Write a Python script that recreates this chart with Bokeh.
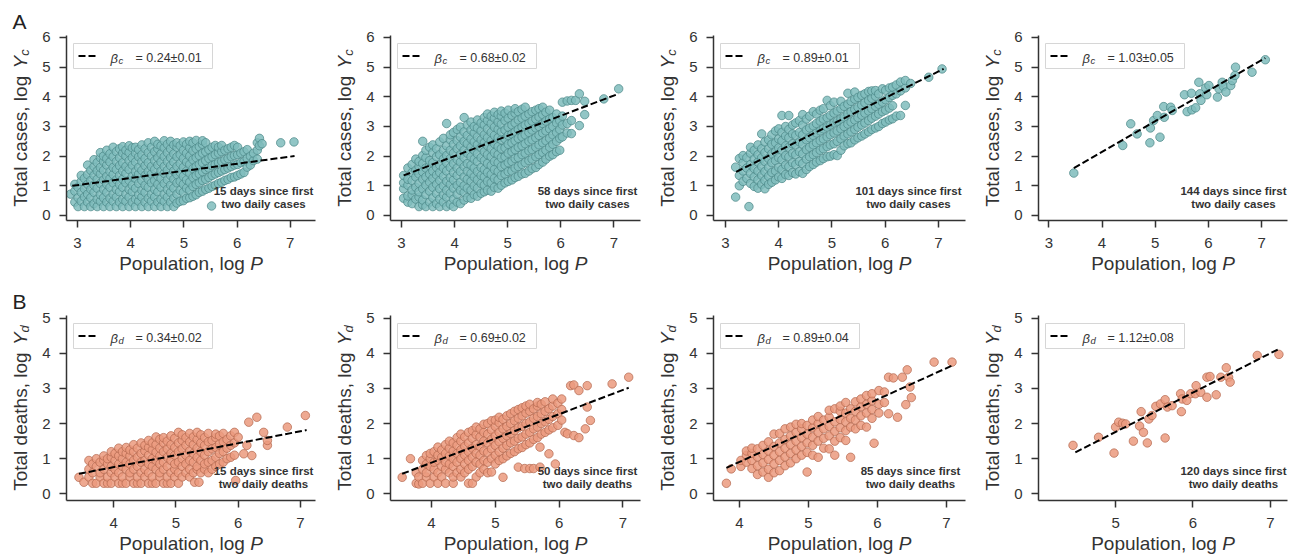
from bokeh.plotting import figure
from bokeh.layouts import gridplot
from bokeh.models import Label, Range1d, FixedTicker
from bokeh.embed import file_html
from bokeh.resources import INLINE

# ---------------- data ----------------
# each entry: (log population, [log totals observed at that population])
a1_cols = [
    (2.87, [0.72]), (2.95, [0.45, 0.82, 1.05]), (3.01, [0.3, 0.6, 0.95]),
    (3.07, [0.48, 0.78, 1.15, 1.35]), (3.13, [0.3, 0.62, 0.9, 1.25]),
    (3.19, [0.45, 0.72, 1.05, 1.38, 1.7]), (3.25, [0.3, 0.6, 0.88, 1.18, 1.52]),
    (3.31, [0.4, 0.78, 1.02, 1.35, 1.65, 1.88]), (3.37, [0.3, 0.55, 0.92, 1.22, 1.5, 1.78]),
    (3.43, [0.48, 0.7, 1.08, 1.4, 1.62, 1.95, 2.12]), (3.49, [0.3, 0.6, 0.88, 1.2, 1.52, 1.82, 2.0]),
    (3.55, [0.45, 0.78, 1.05, 1.32, 1.7, 1.92, 2.2]), (3.61, [0.3, 0.58, 0.95, 1.25, 1.48, 1.8, 2.08]),
    (3.67, [0.48, 0.72, 1.1, 1.38, 1.62, 1.98, 2.3]), (3.73, [0.3, 0.62, 0.88, 1.2, 1.55, 1.82, 2.15]),
    (3.79, [0.45, 0.8, 1.05, 1.35, 1.68, 1.95, 2.25]), (3.85, [0.3, 0.55, 0.95, 1.22, 1.5, 1.78, 2.1, 2.32]),
    (3.91, [0.48, 0.72, 1.1, 1.42, 1.65, 2.0, 2.2]), (3.97, [0.3, 0.62, 0.88, 1.18, 1.55, 1.85, 2.12, 2.35]),
    (4.03, [0.45, 0.8, 1.02, 1.32, 1.7, 1.95, 2.28]), (4.09, [0.3, 0.55, 0.92, 1.25, 1.48, 1.8, 2.1, 2.3]),
    (4.15, [0.48, 0.7, 1.08, 1.4, 1.62, 1.98, 2.22]), (4.21, [0.3, 0.62, 0.85, 1.18, 1.52, 1.82, 2.05, 2.38]),
    (4.27, [0.45, 0.78, 1.02, 1.35, 1.68, 1.92, 2.25]), (4.33, [0.3, 0.58, 0.95, 1.22, 1.48, 1.78, 2.12, 2.45]),
    (4.39, [0.48, 0.72, 1.1, 1.4, 1.65, 2.0, 2.3]), (4.45, [0.3, 0.62, 0.88, 1.18, 1.55, 1.85, 2.15, 2.5]),
    (4.51, [0.45, 0.8, 1.05, 1.32, 1.7, 1.95, 2.25, 2.4]), (4.57, [0.3, 0.55, 0.95, 1.25, 1.5, 1.8, 2.08, 2.35]),
    (4.63, [0.48, 0.72, 1.08, 1.42, 1.65, 1.98, 2.28, 2.52]), (4.69, [0.3, 0.62, 0.88, 1.2, 1.52, 1.82, 2.12, 2.4]),
    (4.75, [0.45, 0.78, 1.02, 1.35, 1.68, 1.95, 2.25, 2.5]), (4.81, [0.3, 0.58, 0.92, 1.22, 1.5, 1.8, 2.08, 2.38]),
    (4.87, [0.42, 0.72, 1.1, 1.38, 1.65, 1.98, 2.3, 2.45]), (4.93, [0.48, 0.85, 1.15, 1.45, 1.75, 2.05, 2.35]),
    (4.99, [0.5, 0.78, 1.05, 1.32, 1.62, 1.92, 2.2, 2.48]), (5.05, [0.58, 0.92, 1.2, 1.5, 1.8, 2.1, 2.4]),
    (5.11, [0.6, 0.85, 1.12, 1.42, 1.72, 2.0, 2.28, 2.5]), (5.17, [0.65, 0.98, 1.28, 1.58, 1.88, 2.18, 2.45]),
    (5.23, [0.7, 1.05, 1.35, 1.65, 1.95, 2.25, 2.53]), (5.29, [0.78, 1.1, 1.4, 1.72, 2.02, 2.32]),
    (5.35, [0.82, 1.18, 1.48, 1.78, 2.1, 2.4, 2.52]), (5.41, [0.88, 1.22, 1.55, 1.85, 2.15, 2.45]),
    (5.47, [0.92, 1.28, 1.6, 1.92, 2.22]), (5.52, [0.32]), (5.53, [0.98, 1.35, 1.68, 1.98, 2.3]),
    (5.59, [1.02, 1.4, 1.72, 2.05, 2.36]), (5.65, [1.08, 1.45, 1.78, 2.1, 2.3]),
    (5.71, [1.12, 1.5, 1.82, 2.15, 2.36]), (5.77, [1.18, 1.55, 1.88, 2.2]),
    (5.83, [1.22, 1.6, 1.92, 2.25]), (5.89, [1.28, 1.65, 1.98, 2.3]),
    (5.95, [1.3, 1.7, 2.02, 2.36]), (6.01, [1.35, 1.72, 2.05, 2.3]),
    (6.07, [1.4, 1.78, 2.1]), (6.13, [1.45, 1.82, 2.15]), (6.19, [1.63, 1.92, 2.22]),
    (6.25, [1.7, 2.0]), (6.31, [1.85, 2.1]), (6.38, [1.9, 2.2, 2.45]),
    (6.42, [2.6, 2.35]), (6.47, [2.42]), (6.82, [2.45]), (7.07, [2.48]),
]

a2_cols = [
    (3.04, [0.58, 0.9, 1.1, 1.35]), (3.12, [0.45, 0.66, 1.02, 1.22, 1.6]),
    (3.2, [0.4, 0.7, 0.86, 1.18, 1.45, 1.72]), (3.27, [0.55, 0.95, 1.3, 1.52, 1.9]),
    (3.33, [0.3, 0.62, 0.8, 1.08, 1.4, 1.65, 1.82]), (3.4, [0.36, 0.52, 0.9, 1.22, 1.47, 1.75, 2.02, 2.5]),
    (3.46, [0.3, 0.7, 1.02, 1.3, 1.6, 1.95, 2.2]), (3.53, [0.45, 0.82, 1.12, 1.4, 1.68, 1.85, 2.3]),
    (3.59, [0.3, 0.6, 0.95, 1.25, 1.5, 1.78, 2.12, 2.38]), (3.66, [0.4, 0.74, 1.05, 1.36, 1.62, 1.98, 2.25]),
    (3.72, [0.3, 0.55, 0.9, 1.18, 1.45, 1.7, 2.05, 2.48]), (3.79, [0.45, 0.7, 1.0, 1.32, 1.6, 1.9, 2.2, 2.6]),
    (3.85, [0.3, 0.62, 0.85, 1.15, 1.5, 1.78, 2.02, 2.35, 3.1]),
    (3.92, [0.38, 0.75, 1.05, 1.28, 1.62, 1.92, 2.2, 2.55, 2.72]),
    (3.98, [0.3, 0.55, 0.92, 1.2, 1.45, 1.75, 2.1, 2.4, 2.8]),
    (4.05, [0.45, 0.72, 1.02, 1.35, 1.6, 1.88, 2.25, 2.52, 2.9]),
    (4.11, [0.4, 0.85, 1.12, 1.48, 1.8, 2.05, 2.35, 2.65, 2.98]),
    (4.18, [0.52, 0.78, 1.0, 1.3, 1.65, 1.95, 2.2, 2.5, 2.82, 3.3]),
    (4.24, [0.6, 0.92, 1.22, 1.5, 1.75, 2.1, 2.42, 2.7, 3.05]),
    (4.31, [0.58, 0.85, 1.15, 1.42, 1.7, 1.98, 2.3, 2.58, 2.88, 3.15]),
    (4.37, [0.7, 1.0, 1.3, 1.6, 1.9, 2.2, 2.48, 2.78, 3.0]),
    (4.43, [0.65, 0.92, 1.2, 1.48, 1.82, 2.08, 2.38, 2.65, 2.95, 3.22]),
    (4.5, [0.75, 1.08, 1.35, 1.62, 1.95, 2.28, 2.55, 2.85, 3.12]),
    (4.56, [0.8, 1.02, 1.3, 1.55, 1.85, 2.15, 2.45, 2.72, 3.05, 3.3]),
    (4.62, [0.85, 1.15, 1.45, 1.75, 2.05, 2.35, 2.62, 2.92, 3.2, 3.42]),
    (4.69, [0.82, 1.1, 1.38, 1.68, 1.98, 2.25, 2.52, 2.8, 3.1, 3.35]),
    (4.75, [0.95, 1.25, 1.55, 1.82, 2.12, 2.42, 2.7, 2.98, 3.28, 3.48]),
    (4.82, [0.92, 1.2, 1.48, 1.78, 2.05, 2.32, 2.62, 2.9, 3.15, 3.4]),
    (4.88, [1.02, 1.35, 1.65, 1.95, 2.25, 2.55, 2.82, 3.08, 3.35, 3.52]),
    (4.95, [1.1, 1.4, 1.7, 1.98, 2.28, 2.58, 2.88, 3.2, 3.45]),
    (5.01, [1.15, 1.48, 1.78, 2.1, 2.4, 2.7, 2.98, 3.28, 3.55]),
    (5.08, [1.2, 1.5, 1.82, 2.15, 2.45, 2.75, 3.05, 3.38]),
    (5.14, [1.28, 1.6, 1.92, 2.22, 2.52, 2.82, 3.12, 3.45, 3.6]),
    (5.2, [1.32, 1.65, 1.95, 2.3, 2.6, 2.9, 3.22, 3.5]),
    (5.27, [1.4, 1.72, 2.05, 2.35, 2.65, 2.98, 3.28, 3.58]),
    (5.33, [1.42, 1.78, 2.1, 2.42, 2.72, 3.05, 3.35, 3.65]),
    (5.4, [1.5, 1.85, 2.18, 2.5, 2.8, 3.1, 3.42]),
    (5.46, [1.58, 1.9, 2.22, 2.55, 2.88, 3.18, 3.5]),
    (5.53, [1.62, 1.98, 2.3, 2.62, 2.95, 3.25, 3.55]),
    (5.59, [1.72, 2.05, 2.38, 2.7, 3.0, 3.32, 3.6]),
    (5.66, [1.8, 2.12, 2.45, 2.78, 3.1, 3.4, 3.65]),
    (5.72, [1.9, 2.2, 2.52, 2.85, 3.18, 3.48]),
    (5.79, [2.0, 2.3, 2.6, 2.92, 3.25, 3.55]),
    (5.85, [2.05, 2.4, 2.72, 3.0, 3.3]), (5.92, [2.15, 2.5, 2.8, 3.12, 3.42]),
    (5.98, [2.2, 2.6, 2.9, 3.2]), (6.03, [2.65, 3.05, 3.35, 3.82]),
    (6.12, [2.78, 3.1, 3.86]), (6.2, [2.76, 3.2, 3.88]), (6.28, [3.88]),
    (6.35, [3.03, 4.1]), (6.45, [3.4, 3.85]), (6.81, [3.93]), (7.09, [4.27]),
]

a3_cols = [
    (3.19, [0.62, 1.63]), (3.26, [1.0, 1.35, 1.92]), (3.33, [1.15, 1.5, 1.78, 2.02]),
    (3.4, [1.25, 1.6, 1.95]), (3.44, [0.3]), (3.47, [1.08, 1.42, 1.72, 2.1, 2.3]),
    (3.54, [0.98, 1.3, 1.58, 1.9, 2.2]), (3.61, [0.92, 1.2, 1.5, 1.8, 2.05, 2.38]),
    (3.68, [1.05, 1.35, 1.65, 1.95, 2.25, 2.75]), (3.74, [0.9, 1.18, 1.48, 1.82, 2.12, 2.48]),
    (3.81, [1.05, 1.32, 1.62, 1.92, 2.25, 2.55]), (3.87, [1.12, 1.45, 1.78, 2.08, 2.4, 2.72]),
    (3.94, [1.2, 1.5, 1.85, 2.15, 2.45, 2.85]), (4.0, [1.3, 1.62, 1.95, 2.28, 2.58, 2.92]),
    (4.06, [1.25, 1.55, 1.88, 2.2, 2.52, 2.8, 3.37]), (4.13, [1.38, 1.7, 2.02, 2.35, 2.68, 3.0]),
    (4.19, [1.35, 1.65, 1.98, 2.3, 2.62, 2.9, 3.37]), (4.26, [1.45, 1.78, 2.1, 2.42, 2.75, 3.05]),
    (4.32, [1.4, 1.72, 2.05, 2.38, 2.7, 3.12]), (4.39, [1.48, 1.82, 2.15, 2.48, 2.8, 3.2]),
    (4.45, [1.42, 1.75, 2.08, 2.4, 2.72, 3.05, 3.4]), (4.52, [1.55, 1.9, 2.22, 2.55, 2.88, 3.25]),
    (4.58, [1.65, 1.98, 2.3, 2.62, 2.95, 3.35]), (4.65, [1.72, 2.05, 2.38, 2.7, 3.02, 3.5]),
    (4.71, [1.8, 2.12, 2.45, 2.78, 3.1, 3.42]), (4.78, [1.85, 2.2, 2.52, 2.85, 3.18, 3.55]),
    (4.84, [1.92, 2.25, 2.58, 2.92, 3.25, 3.6]), (4.91, [1.98, 2.32, 2.65, 2.98, 3.3, 3.88]),
    (4.97, [2.0, 2.38, 2.72, 3.05, 3.38, 3.7]), (5.04, [2.05, 2.42, 2.78, 3.12, 3.45, 3.82]),
    (5.1, [2.02, 2.5, 2.85, 3.18, 3.52]), (5.17, [2.2, 2.58, 2.92, 3.25, 3.6, 3.85]),
    (5.23, [2.35, 2.68, 3.0, 3.32, 3.68]), (5.3, [2.42, 2.75, 3.08, 3.42, 3.75, 4.12]),
    (5.36, [2.45, 2.82, 3.15, 3.5, 3.85]), (5.43, [2.55, 2.9, 3.22, 3.58, 3.92, 4.16]),
    (5.49, [2.62, 2.98, 3.3, 3.65, 3.98]), (5.56, [2.68, 3.05, 3.38, 3.72, 4.05]),
    (5.62, [2.75, 3.12, 3.45, 3.8, 4.1]), (5.69, [2.82, 3.2, 3.52, 3.88, 4.18]),
    (5.75, [2.9, 3.28, 3.6, 3.95, 4.2]), (5.82, [2.95, 3.35, 3.68, 4.02, 4.21]),
    (5.88, [3.0, 3.42, 3.75, 4.1]), (5.95, [3.1, 3.5, 3.82, 4.27]),
    (6.01, [3.15, 3.55, 3.9, 4.22]), (6.08, [3.22, 3.62, 3.98, 4.3]),
    (6.14, [3.26, 3.7, 4.05, 4.33]), (6.21, [3.35, 4.1, 4.4]), (6.29, [3.37, 4.2, 4.5]),
    (6.38, [3.71, 4.3, 4.55]), (6.48, [4.45]), (6.82, [4.66]), (7.07, [4.94]),
]

a4_x = [3.47, 4.39, 4.54, 4.66, 4.9, 4.91, 4.97, 5.04, 5.09, 5.16, 5.17, 5.29,
        5.32, 5.55, 5.6, 5.68, 5.69, 5.76, 5.82, 5.84, 5.86, 5.95, 5.97, 6.01,
        6.17, 6.2, 6.26, 6.28, 6.33, 6.42, 6.45, 6.5, 6.51, 6.82, 7.07]
a4_y = [1.43, 2.36, 3.09, 2.75, 2.45, 2.95, 3.2, 3.37, 2.64, 3.67, 3.31, 3.65,
        3.54, 4.07, 3.5, 4.12, 3.56, 3.63, 4.49, 4.1, 3.88, 4.3, 4.07, 4.38,
        3.99, 4.27, 4.49, 4.35, 4.16, 4.38, 4.55, 4.72, 5.0, 4.83, 5.25]

b1_cols = [
    (3.44, [0.47]), (3.52, [0.33]), (3.6, [0.48, 0.7, 0.95]), (3.66, [0.3, 0.6, 0.85]),
    (3.72, [0.3, 0.78, 1.0]), (3.78, [0.48, 0.6, 0.9]), (3.84, [0.3, 0.7, 0.95, 1.08]),
    (3.9, [0.3, 0.48, 0.85, 1.0]), (3.96, [0.3, 0.6, 0.78, 1.04, 1.2]),
    (4.02, [0.48, 0.7, 0.95, 1.15]), (4.08, [0.3, 0.6, 0.85, 1.08, 1.3]),
    (4.14, [0.3, 0.48, 0.78, 1.0, 1.2]), (4.2, [0.3, 0.7, 0.9, 1.15, 1.32]),
    (4.26, [0.48, 0.6, 0.85, 1.08, 1.25]), (4.32, [0.3, 0.7, 0.95, 1.2, 1.4]),
    (4.38, [0.3, 0.48, 0.78, 1.04, 1.3]), (4.44, [0.3, 0.6, 0.9, 1.15, 1.45]),
    (4.5, [0.48, 0.7, 0.95, 1.22, 1.38]), (4.56, [0.3, 0.6, 0.85, 1.1, 1.32, 1.52]),
    (4.62, [0.3, 0.48, 0.78, 1.0, 1.25, 1.45]), (4.68, [0.3, 0.7, 0.95, 1.18, 1.4, 1.62]),
    (4.74, [0.48, 0.6, 0.85, 1.08, 1.3, 1.55]), (4.8, [0.3, 0.7, 0.9, 1.2, 1.45, 1.6]),
    (4.86, [0.3, 0.48, 0.78, 1.04, 1.28, 1.5]), (4.92, [0.3, 0.6, 0.95, 1.15, 1.4, 1.65]),
    (4.98, [0.48, 0.7, 0.85, 1.1, 1.32, 1.58]), (5.04, [0.3, 0.6, 0.9, 1.2, 1.45, 1.75]),
    (5.1, [0.48, 0.78, 1.0, 1.28, 1.52, 1.68]), (5.16, [0.6, 0.85, 1.1, 1.38, 1.6]),
    (5.22, [0.48, 0.7, 0.95, 1.22, 1.48, 1.72]), (5.28, [0.6, 0.9, 1.15, 1.4, 1.62]),
    (5.3, [0.33]), (5.34, [0.7, 0.78, 1.04, 1.3, 1.55, 1.75]), (5.37, [0.33]),
    (5.4, [0.6, 0.95, 1.2, 1.45, 1.68]), (5.46, [0.7, 0.85, 1.1, 1.38, 1.6]),
    (5.52, [0.6, 0.9, 1.2, 1.48, 1.72]), (5.58, [0.7, 0.95, 1.28, 1.52]),
    (5.64, [0.78, 1.04, 1.32, 1.6, 1.7]), (5.7, [0.85, 1.15, 1.42, 1.65]),
    (5.76, [0.9, 1.2, 1.48, 1.72]), (5.82, [1.0, 1.3, 1.55]), (5.88, [1.04, 1.38, 1.65]),
    (5.94, [1.1, 1.45, 1.75]), (5.96, [0.38]), (6.0, [1.61]), (6.09, [1.14]),
    (6.14, [1.38]), (6.17, [2.04]), (6.22, [1.09]), (6.3, [2.18]), (6.41, [1.75]),
    (6.47, [1.38, 1.52]), (6.79, [1.9]), (7.08, [2.23]),
]

b2_cols = [
    (3.54, [0.47]), (3.67, [1.0]), (3.76, [0.3, 0.6]), (3.8, [0.28, 0.48]),
    (3.86, [0.3, 0.7, 0.95]), (3.92, [0.48, 0.6, 0.85, 1.09]), (3.98, [0.3, 0.78, 1.0, 1.15]),
    (4.04, [0.48, 0.7, 0.9, 1.2]), (4.1, [0.3, 0.6, 0.95, 1.1, 1.33]),
    (4.16, [0.48, 0.78, 1.04, 1.25]), (4.22, [0.3, 0.7, 0.9, 1.15, 1.4]),
    (4.28, [0.6, 0.85, 1.08, 1.3, 1.5]), (4.34, [0.3, 0.48, 0.78, 1.0, 1.22, 1.45]),
    (4.4, [0.6, 0.9, 1.15, 1.38, 1.6]), (4.46, [0.48, 0.7, 1.0, 1.25, 1.5, 1.7]),
    (4.52, [0.6, 0.85, 1.1, 1.35, 1.62]), (4.58, [0.3, 0.7, 0.95, 1.2, 1.45, 1.75]),
    (4.64, [0.3, 0.78, 1.04, 1.3, 1.58, 1.8]), (4.7, [0.48, 0.9, 1.15, 1.4, 1.68, 1.9]),
    (4.76, [0.6, 0.85, 1.1, 1.35, 1.62, 1.85]), (4.82, [0.7, 0.95, 1.22, 1.5, 1.75, 1.98]),
    (4.88, [0.6, 0.9, 1.18, 1.45, 1.7, 2.0]), (4.94, [0.62, 1.0, 1.28, 1.55, 1.82, 2.08]),
    (5.0, [0.85, 1.1, 1.38, 1.65, 1.92, 2.1]), (5.06, [0.95, 1.2, 1.48, 1.75, 2.02, 2.18]),
    (5.12, [0.47, 1.0, 1.3, 1.58, 1.85, 2.12]), (5.18, [1.08, 1.38, 1.65, 1.92, 2.22]),
    (5.24, [1.15, 1.45, 1.72, 2.0, 2.28]), (5.3, [1.2, 1.5, 1.8, 2.08, 2.35]),
    (5.36, [0.76, 1.28, 1.58, 1.88, 2.15, 2.4]), (5.42, [1.32, 1.62, 1.92, 2.22, 2.45]),
    (5.46, [0.72]), (5.48, [1.4, 1.7, 2.0, 2.3, 2.5]), (5.54, [0.72, 1.45, 1.75, 2.05, 2.35, 2.55]),
    (5.6, [0.72, 1.55, 1.85, 2.15, 2.42]), (5.66, [1.6, 1.9, 2.2, 2.5, 2.6]),
    (5.7, [0.76, 1.33]), (5.72, [1.7, 2.0, 2.28, 2.55]), (5.78, [1.75, 2.05, 2.35, 2.62]),
    (5.84, [1.14, 1.82, 2.12, 2.42]), (5.9, [1.88, 2.2, 2.5, 2.7]), (5.94, [0.85]),
    (5.98, [1.95, 2.28, 2.58]), (6.04, [2.1, 2.4, 2.7]), (6.09, [1.75]), (6.13, [1.71]),
    (6.18, [3.08]), (6.23, [1.66, 3.1]), (6.31, [1.6, 2.94]), (6.41, [1.85]),
    (6.44, [2.47, 3.08]), (6.49, [2.09]), (6.83, [3.13]), (7.09, [3.32]),
]

b3_cols = [
    (3.81, [0.3]), (3.88, [0.71]), (4.02, [0.78, 0.95]), (4.1, [0.9, 1.1, 1.22]),
    (4.18, [0.72, 0.95, 1.15, 1.3]), (4.26, [0.55, 0.8, 1.05, 1.28]),
    (4.34, [0.62, 0.88, 1.12, 1.38]), (4.42, [0.47, 0.7, 0.98, 1.22, 1.48]),
    (4.5, [0.6, 0.85, 1.1, 1.35, 1.7]), (4.58, [0.66, 0.95, 1.2, 1.45, 1.72]),
    (4.66, [0.8, 1.05, 1.3, 1.55, 1.85]), (4.74, [0.88, 1.15, 1.4, 1.65, 1.9]),
    (4.82, [1.0, 1.25, 1.5, 1.75, 1.98]), (4.9, [1.1, 1.35, 1.6, 1.85, 2.0]),
    (4.98, [0.62, 1.18, 1.45, 1.7, 1.95]), (5.06, [1.1, 1.38, 1.62, 1.88, 2.1]),
    (5.14, [1.04, 1.5, 1.75, 2.0, 2.2]), (5.22, [1.3, 1.58, 1.85, 2.1]),
    (5.3, [1.28, 1.65, 1.92, 2.18, 2.38]), (5.38, [1.1, 1.5, 1.78, 2.05, 2.42]),
    (5.46, [1.6, 1.88, 2.12, 2.35, 2.5]), (5.54, [1.52, 1.8, 2.05, 2.3, 2.6]),
    (5.61, [1.04, 1.9, 2.15, 2.42]), (5.68, [1.85, 2.1, 2.35, 2.62]),
    (5.76, [1.95, 2.22, 2.48, 2.7]), (5.84, [1.9, 2.3, 2.55, 2.8]),
    (5.92, [2.15, 2.4, 2.65, 2.85]), (5.95, [1.44]), (6.02, [2.3, 2.55, 2.94]),
    (6.1, [2.6, 2.9]), (6.16, [2.28, 3.32]), (6.23, [3.3]), (6.29, [2.18]),
    (6.36, [3.32]), (6.41, [2.54]), (6.43, [3.53]), (6.47, [3.04]), (6.49, [2.74]),
    (6.82, [3.75]), (7.08, [3.75]),
]

b4_x = [4.45, 4.78, 4.98, 5.0, 5.04, 5.09, 5.13, 5.23, 5.31, 5.33, 5.36, 5.41,
        5.43, 5.47, 5.52, 5.58, 5.64, 5.64, 5.67, 5.73, 5.84, 5.85, 5.86, 5.92,
        5.97, 6.03, 6.04, 6.1, 6.18, 6.18, 6.22, 6.3, 6.36, 6.43, 6.46, 6.48,
        6.83, 7.11]
b4_y = [1.38, 1.61, 1.16, 1.9, 2.04, 2.01, 1.99, 1.5, 1.93, 2.34, 1.75, 1.45,
        2.13, 2.23, 2.49, 2.56, 1.59, 2.68, 2.47, 2.51, 2.85, 2.34, 2.7, 2.66,
        2.85, 2.85, 3.08, 2.89, 2.75, 3.32, 3.34, 2.82, 3.32, 3.59, 3.32, 3.18,
        3.94, 3.97]

betas = [0.24, 0.68, 0.89, 1.03, 0.34, 0.69, 0.89, 1.12]
beta_errs = [0.01, 0.02, 0.01, 0.05, 0.02, 0.02, 0.04, 0.08]
days = [15, 58, 101, 144, 15, 50, 85, 120]
fit_x0 = [2.9, 3.04, 3.2, 3.47, 3.44, 3.54, 3.81, 4.48]
fit_y0 = [1.0, 1.35, 1.47, 1.6, 0.57, 0.57, 0.74, 1.18]
fit_x1 = [7.08, 7.09, 7.1, 7.07, 7.1, 7.09, 7.08, 7.11]

x_ticks_a = [3, 4, 5, 6, 7]
x_ticks_b = [4, 5, 6, 7]
y_ticks_a = [0, 1, 2, 3, 4, 5, 6]
y_ticks_b = [0, 1, 2, 3, 4, 5]


def flat(cols):
    xs, ys = [], []
    for x, yl in cols:
        for y in yl:
            xs.append(x)
            ys.append(y)
    return xs, ys


series = [flat(a1_cols), flat(a2_cols), flat(a3_cols), (a4_x, a4_y),
          flat(b1_cols), flat(b2_cols), flat(b3_cols), (b4_x, b4_y)]

# ---------------- layout / style ----------------
FONT = "Liberation Sans"
TXT = "#333333"
x_ranges = [(2.793, 7.474), (2.793, 7.501), (2.774, 7.511), (2.806, 7.487),
            (3.24, 7.243), (3.357, 7.275), (3.623, 7.275), (4.004, 7.221)]
y_ranges = [(-0.169, 6.067), (-0.19, 5.077)]
frame_w = [249, 250, 252, 249]
border_l = [66, 61, 59, 59]
border_r = [14, 14, 14, 14]
FH = 185
border_t = [35, 35]
border_b = [60, 58]

CW = {"T": 611, "o": 556, "t": 278, "a": 556, "l": 222, " ": 278, "c": 500,
      "s": 500, "e": 556, ",": 278, "g": 556, "d": 556, "h": 556, "P": 667,
      "p": 556, "u": 556, "i": 222, "n": 556, "Y": 667}


def tw(s, size):
    return sum(CW.get(ch, 556) for ch in s) / 1000.0 * size


def make_panel(k):
    row, col = divmod(k, 4)
    x0, x1 = x_ranges[k]
    y0, y1 = y_ranges[row]
    W = frame_w[col]

    def dx(px):
        return x0 + px * (x1 - x0) / W

    def dy(py):
        return y0 + py * (y1 - y0) / FH

    p = figure(width=border_l[col] + W + border_r[col],
               height=border_t[row] + FH + border_b[row],
               x_range=Range1d(x0, x1), y_range=Range1d(y0, y1),
               output_backend="svg", toolbar_location=None,
               min_border_left=border_l[col], min_border_right=border_r[col],
               min_border_top=border_t[row], min_border_bottom=border_b[row])
    p.grid.visible = False
    p.outline_line_color = None
    p.background_fill_color = "white"
    p.border_fill_color = "white"
    p.xaxis.ticker = FixedTicker(ticks=x_ticks_a if row == 0 else x_ticks_b)
    p.yaxis.ticker = FixedTicker(ticks=y_ticks_a if row == 0 else y_ticks_b)
    for ax in (p.xaxis[0], p.yaxis[0]):
        ax.axis_line_color = TXT
        ax.axis_line_width = 1.5
        ax.major_tick_line_color = TXT
        ax.major_tick_line_width = 1.5
        ax.major_tick_out = 7
        ax.major_tick_in = 0
        ax.minor_tick_out = 0
        ax.minor_tick_in = 0
        ax.major_label_text_font = FONT
        ax.major_label_text_font_size = "15px"
        ax.major_label_text_color = TXT
    p.xaxis.major_label_standoff = 10
    p.yaxis.major_label_standoff = 9

    if row == 0:
        fill, edge = "#7fbcbc", "#4b8787"
        word, sub = "cases", "c"
    else:
        fill, edge = "#eb9a7e", "#b4694f"
        word, sub = "deaths", "d"

    xs, ys = series[k]
    p.scatter(xs, ys, size=8.5, fill_color=fill, line_color=edge,
              fill_alpha=0.85, line_alpha=0.9, line_width=0.8)

    # fitted scaling line
    fx = [fit_x0[k], fit_x1[k]]
    fy = [fit_y0[k], fit_y0[k] + betas[k] * (fit_x1[k] - fit_x0[k])]
    p.line(fx, fy, line_color="black", line_width=2, line_dash="7 3")

    # legend box
    p.quad(left=dx(7), right=dx(146), bottom=dy(FH - 33), top=dy(FH - 8),
           fill_color="white", fill_alpha=0.9, line_color="#d6d6d6", line_width=1)
    p.line([dx(12), dx(31)], [dy(FH - 20.5), dy(FH - 20.5)], line_color="black",
           line_width=2, line_dash="7 3")
    p.add_layout(Label(x=dx(44), y=dy(FH - 22.5), text="β", text_font=FONT,
                       text_font_size="13px", text_font_style="italic",
                       text_color=TXT, text_baseline="middle"))
    p.add_layout(Label(x=dx(52), y=dy(FH - 24.6), text=sub, text_font=FONT,
                       text_font_size="9.5px", text_font_style="italic",
                       text_color=TXT, text_baseline="middle"))
    p.add_layout(Label(x=dx(69), y=dy(FH - 22.5),
                       text="= %.2f±%.2f" % (betas[k], beta_errs[k]),
                       text_font=FONT, text_font_size="12.5px", text_color=TXT,
                       text_baseline="middle"))

    # annotation (inside the frame)
    ac = 197 if days[k] < 100 else 195
    p.add_layout(Label(x=dx(ac), y=dy(29.2), text="%d days since first" % days[k],
                       text_font=FONT, text_font_size="11.5px", text_font_style="bold",
                       text_color=TXT, text_align="center", text_baseline="middle"))
    p.add_layout(Label(x=dx(ac), y=dy(16.7), text="two daily %s" % word,
                       text_font=FONT, text_font_size="11.5px", text_font_style="bold",
                       text_color=TXT, text_align="center", text_baseline="middle"))

    # x axis label "Population, log P" (pieces live in side panels so they are not clipped)
    main_x = "Population, log "
    tot = tw(main_x, 19) + tw("P", 19)
    sx = W / 2 - tot / 2
    p.add_layout(Label(x=dx(sx), y=dy(-42.5), text=main_x, text_font=FONT,
                       text_font_size="19px", text_color=TXT,
                       text_baseline="middle"), "below")
    p.add_layout(Label(x=dx(sx + tw(main_x, 19)), y=dy(-42.5), text="P", text_font=FONT,
                       text_font_size="19px", text_font_style="italic", text_color=TXT,
                       text_baseline="middle"), "right")

    # y axis label "Total cases, log Y_c"
    main_y = "Total %s, log " % word
    tot = tw(main_y, 19) + tw("Y", 19) + tw(sub, 13)
    sy = FH / 2 - tot / 2
    bx = -46
    p.add_layout(Label(x=dx(bx), y=dy(sy), text=main_y, text_font=FONT,
                       text_font_size="19px", text_color=TXT, angle=90, angle_units="deg",
                       text_baseline="middle"), "left")
    p.add_layout(Label(x=dx(bx), y=dy(sy + tw(main_y, 19)), text="Y", text_font=FONT,
                       text_font_size="19px", text_font_style="italic", text_color=TXT,
                       angle=90, angle_units="deg", text_baseline="middle"), "above")
    p.add_layout(Label(x=dx(-42.1), y=dy(sy + tw(main_y, 19) + tw("Y", 19)), text=sub,
                       text_font=FONT, text_font_size="13px", text_font_style="italic",
                       text_color=TXT, angle=90, angle_units="deg",
                       text_baseline="middle"), "above")

    if col == 0:
        p.add_layout(Label(x=dx(-54), y=dy(199.5), text="A" if row == 0 else "B",
                           text_font=FONT, text_font_size="21px", text_color="#222222",
                           text_baseline="middle"), "left")
    return p


panels = [make_panel(k) for k in range(8)]
grid = gridplot([panels[:4], panels[4:]], toolbar_location=None)

open("out.html", "w").write(file_html(grid, INLINE))
